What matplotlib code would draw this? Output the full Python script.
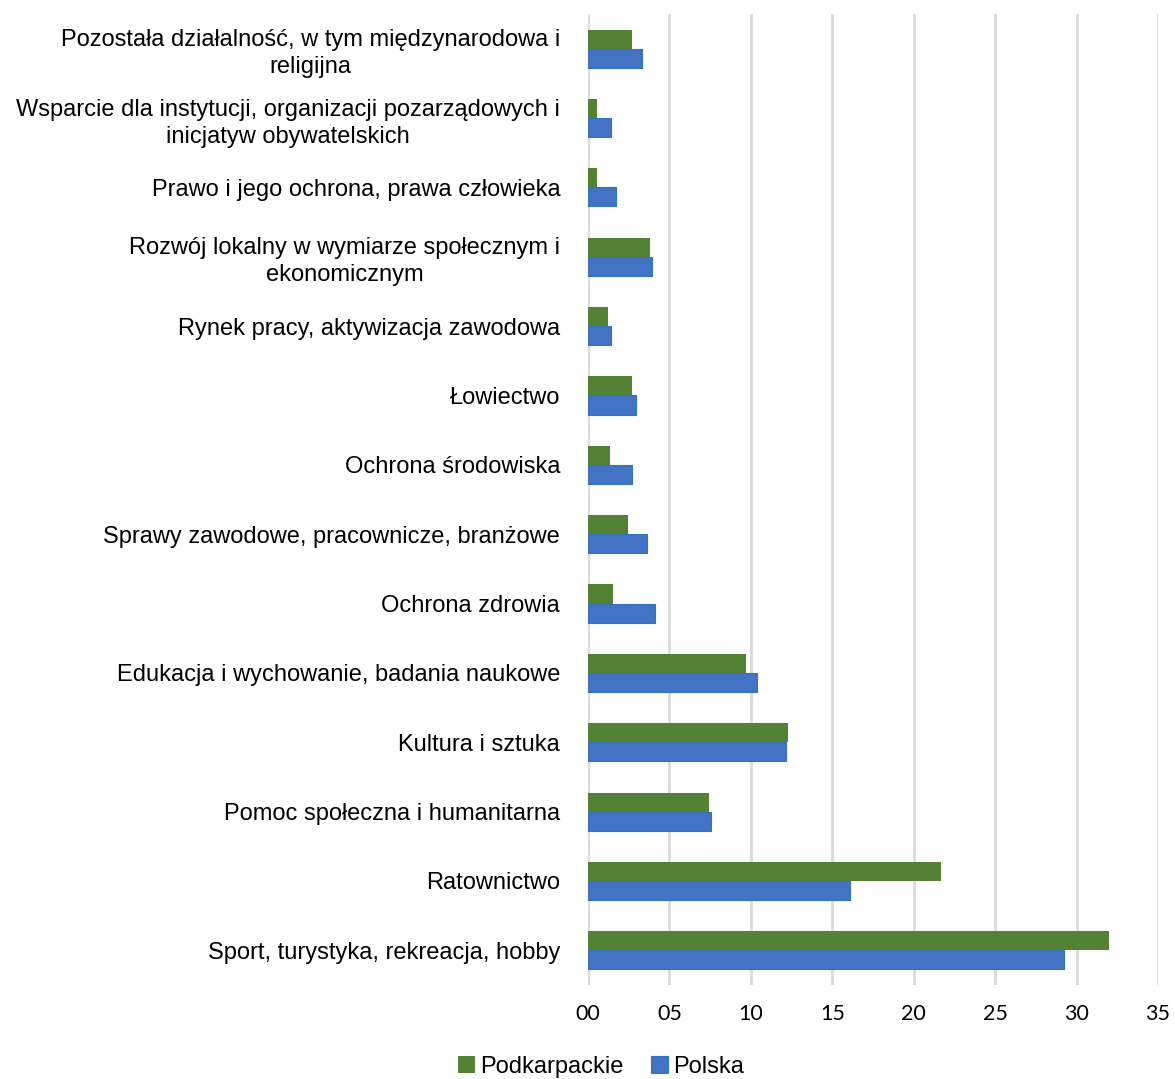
import matplotlib
matplotlib.use("Agg")
import matplotlib.pyplot as plt
import numpy as np

# kategorie od dołu wykresu do góry
kategorie = [
    "Sport, turystyka, rekreacja, hobby",
    "Ratownictwo",
    "Pomoc społeczna i humanitarna",
    "Kultura i sztuka",
    "Edukacja i wychowanie, badania naukowe",
    "Ochrona zdrowia",
    "Sprawy zawodowe, pracownicze, branżowe",
    "Ochrona środowiska",
    "Łowiectwo",
    "Rynek pracy, aktywizacja zawodowa",
    "Rozwój lokalny w wymiarze społecznym i\nekonomicznym",
    "Prawo i jego ochrona, prawa człowieka",
    "Wsparcie dla instytucji, organizacji pozarządowych i\ninicjatyw obywatelskich",
    "Pozostała działalność, w tym międzynarodowa i\nreligijna",
]
podkarpackie = [32.0, 21.7, 7.4, 12.3, 9.7, 1.55, 2.45, 1.35, 2.7, 1.2, 3.8, 0.55, 0.55, 2.7]
polska = [29.2, 16.1, 7.55, 12.15, 10.35, 4.1, 3.6, 2.7, 2.95, 1.4, 3.95, 1.7, 1.4, 3.3]
ticki = [0, 5, 10, 15, 20, 25, 30, 35]
tick_labels = ["00", "05", "10", "15", "20", "25", "30", "35"]

plt.rcParams['font.family'] = ['Liberation Sans', 'DejaVu Sans']

fig = plt.figure(figsize=(11.75, 10.79), dpi=100)
ax = fig.add_axes([588 / 1175, 1 - 985 / 1079, (1158 - 588) / 1175, (985 - 14) / 1079])

y = np.arange(len(kategorie))
h = 0.275
ax.barh(y + h / 2, podkarpackie, height=h, color="#548235", label="Podkarpackie", zorder=3)
ax.barh(y - h / 2, polska, height=h, color="#4472C4", edgecolor="#2E75B6", linewidth=0.8,
        label="Polska", zorder=3)

ax.set_xlim(0, 35)
ax.set_ylim(-0.5, len(kategorie) - 0.5)
ax.set_xticks(ticki)
ax.set_xticklabels(tick_labels, fontsize=15.5, family=['Lato', 'DejaVu Sans'])
ax.set_yticks(y)
ax.set_yticklabels(kategorie, fontsize=17)
for t in ax.get_yticklabels():
    t.set_multialignment('center')
    t.set_linespacing(1.3)

ax.grid(axis='x', color="#D9D9D9", linewidth=2, zorder=0)
for s in ax.spines.values():
    s.set_visible(False)
ax.tick_params(axis='both', length=0)
ax.tick_params(axis='y', pad=20)
ax.tick_params(axis='x', pad=14)

leg = fig.legend(loc='center', bbox_to_anchor=(601 / 1175, 1 - 1067 / 1079), ncol=2,
                 frameon=False, fontsize=17, handlelength=0.7, handleheight=0.7,
                 handletextpad=0.2, columnspacing=1.2)

fig.savefig("out.png", dpi=100)
